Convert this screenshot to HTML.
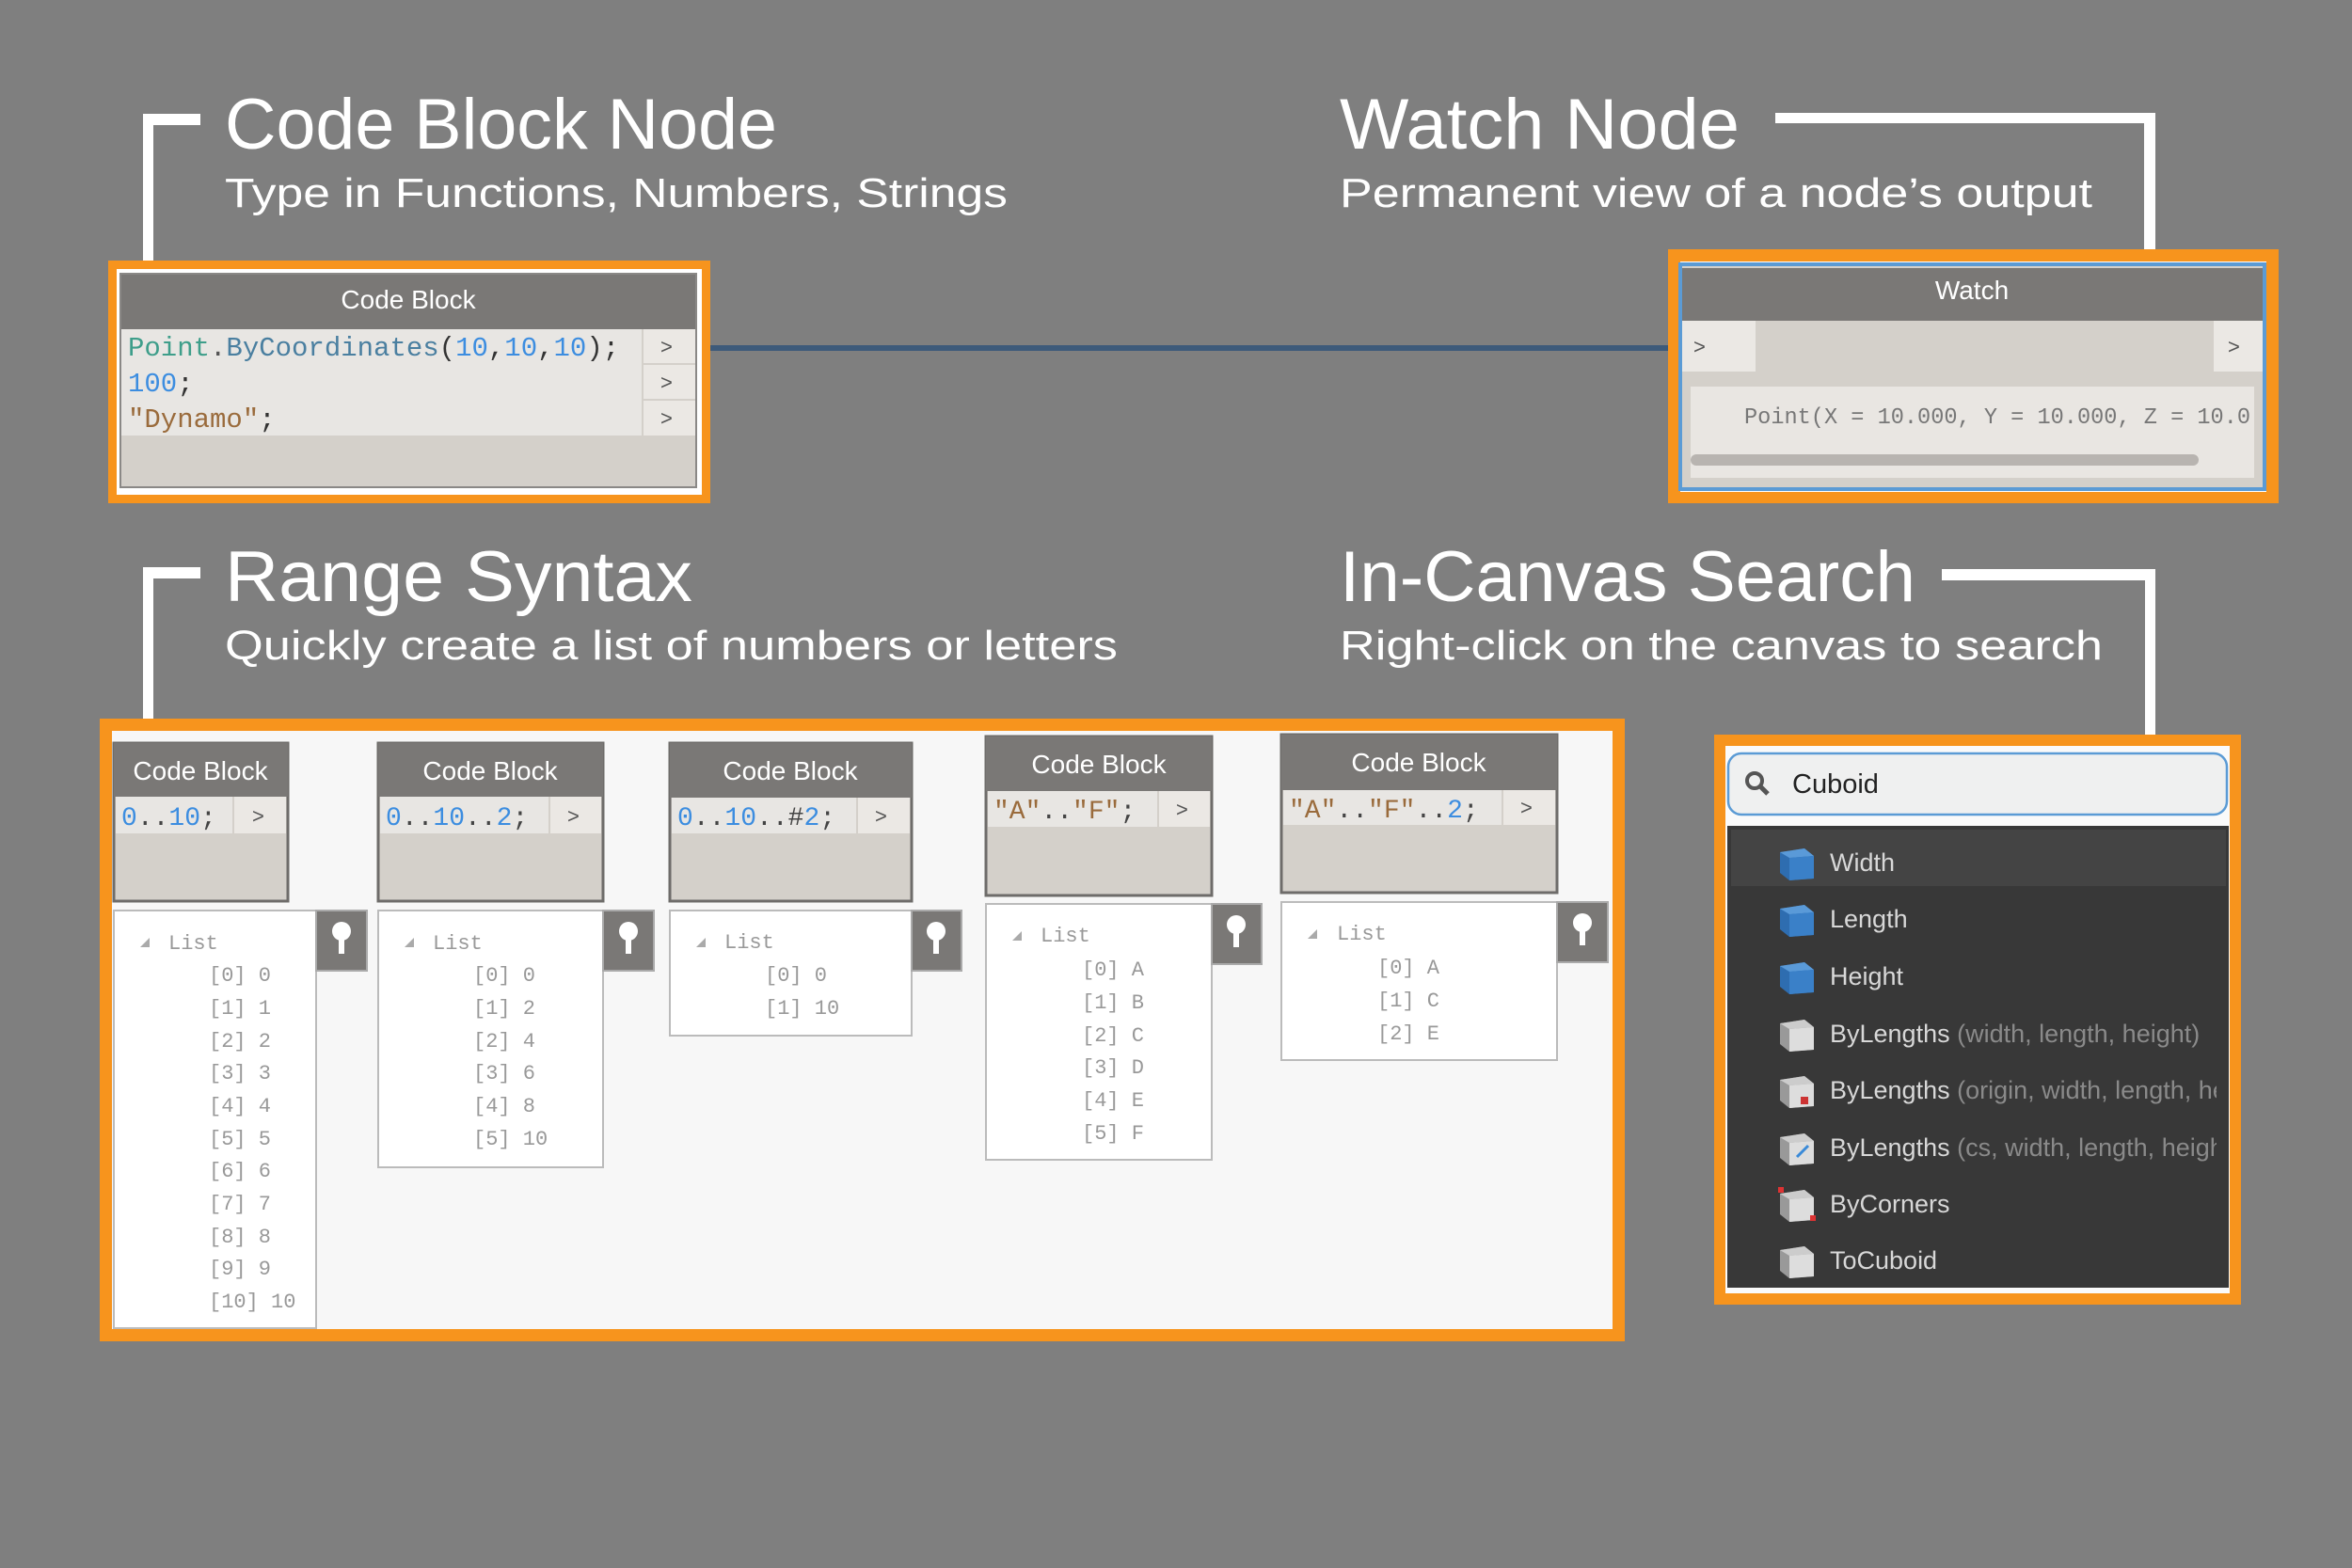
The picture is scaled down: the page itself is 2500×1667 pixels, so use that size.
<!DOCTYPE html>
<html><head><meta charset="utf-8"><style>
html,body{margin:0;padding:0;background:#7f7f7f;}
svg{display:block;}
.t{font-family:"Liberation Sans",sans-serif;fill:#fff;}
.m{font-family:"Liberation Mono",monospace;}
</style></head><body>
<svg width="2500" height="1667" viewBox="0 0 2500 1667" xmlns="http://www.w3.org/2000/svg">
<rect width="2500" height="1667" fill="#7f7f7f"/>

<g fill="#fff">
<rect x="152" y="121" width="61" height="12"/><rect x="152" y="121" width="11" height="158"/>
<rect x="1887" y="120" width="404" height="11"/><rect x="2279" y="120" width="12" height="147"/>
<rect x="152" y="603" width="61" height="12"/><rect x="152" y="603" width="11" height="164"/>
<rect x="2064" y="605" width="227" height="12"/><rect x="2280" y="605" width="11" height="178"/>
</g>

<text class="t" x="239" y="158" font-size="76" textLength="587" lengthAdjust="spacingAndGlyphs">Code Block Node</text>
<text class="t" x="239" y="220" font-size="44" fill="#f2f2f2" textLength="832" lengthAdjust="spacingAndGlyphs">Type in Functions, Numbers, Strings</text>
<text class="t" x="1424" y="158" font-size="76" textLength="425" lengthAdjust="spacingAndGlyphs">Watch Node</text>
<text class="t" x="1424" y="220" font-size="44" textLength="800" lengthAdjust="spacingAndGlyphs">Permanent view of a node’s output</text>
<text class="t" x="239" y="639" font-size="76" textLength="497" lengthAdjust="spacingAndGlyphs">Range Syntax</text>
<text class="t" x="239" y="701" font-size="44" textLength="949" lengthAdjust="spacingAndGlyphs">Quickly create a list of numbers or letters</text>
<text class="t" x="1424" y="639" font-size="76" textLength="612" lengthAdjust="spacingAndGlyphs">In-Canvas Search</text>
<text class="t" x="1424" y="701" font-size="44" textLength="811" lengthAdjust="spacingAndGlyphs">Right-click on the canvas to search</text>

<rect x="740" y="367" width="1050" height="6" fill="#3d5a7a"/>

<rect x="115" y="277" width="640" height="258" fill="#f7941d"/>
<rect x="124" y="286" width="622" height="240" fill="#fff"/>
<rect x="128" y="291" width="612" height="227" fill="#d4d0ca" stroke="#8a8886" stroke-width="2"/>
<rect x="129" y="292" width="610" height="58" fill="#7a7876"/>
<text class="t" x="434" y="328" font-size="28" text-anchor="middle">Code Block</text>
<rect x="129" y="350" width="553" height="113" fill="#e8e6e3"/>
<rect x="684" y="350" width="55" height="36" fill="#ebe8e4"/>
<rect x="684" y="388" width="55" height="36" fill="#ebe8e4"/>
<rect x="684" y="426" width="55" height="37" fill="#ebe8e4"/>
<g class="m" font-size="29">
<text x="136" y="378"><tspan fill="#3e9e8a">Point</tspan><tspan fill="#555">.</tspan><tspan fill="#4a7fa0">ByCoordinates</tspan><tspan fill="#333">(</tspan><tspan fill="#3c8de0">10</tspan><tspan fill="#333">,</tspan><tspan fill="#3c8de0">10</tspan><tspan fill="#333">,</tspan><tspan fill="#3c8de0">10</tspan><tspan fill="#333">);</tspan></text>
<text x="136" y="416"><tspan fill="#3c8de0">100</tspan><tspan fill="#333">;</tspan></text>
<text x="136" y="454"><tspan fill="#9a6b3c">"Dynamo"</tspan><tspan fill="#333">;</tspan></text>
</g>
<g class="t" font-size="22" style="fill:#555">
<text x="702" y="376">&gt;</text><text x="702" y="414">&gt;</text><text x="702" y="452">&gt;</text>
</g>

<rect x="1773" y="265" width="649" height="270" fill="#f7941d"/>
<rect x="1786" y="278" width="623" height="245" fill="#fff"/>
<rect x="1786" y="281" width="621" height="239" fill="#d4d0ca" stroke="#5b9bd5" stroke-width="4"/>
<rect x="1788" y="285" width="617" height="56" fill="#7a7876"/>
<text class="t" x="2096" y="318" font-size="28" text-anchor="middle">Watch</text>
<rect x="1788" y="341" width="78" height="54" fill="#ebe8e4"/>
<rect x="2353" y="341" width="52" height="54" fill="#ebe8e4"/>
<text class="t" x="1800" y="376" font-size="22" style="fill:#555">&gt;</text>
<text class="t" x="2368" y="376" font-size="22" style="fill:#555">&gt;</text>
<rect x="1797" y="411" width="599" height="97" fill="#e9e6e2"/>
<text class="m" x="1854" y="450" font-size="23.6" fill="#777">Point(X = 10.000, Y = 10.000, Z = 10.0</text>
<rect x="1797" y="483" width="540" height="12" rx="6" fill="#b8b4b0"/>

<rect x="106" y="764" width="1621" height="662" fill="#f7941d"/>
<rect x="119" y="777" width="1595" height="636" fill="#f7f7f7"/>

<g>
<rect x="121" y="790" width="185" height="168" fill="#d4d0ca" stroke="#6e6c6a" stroke-width="3"/>
<rect x="121" y="790" width="185" height="57" fill="#7a7876"/>
<text class="t" x="213" y="829" font-size="28" text-anchor="middle">Code Block</text>
<rect x="123" y="847" width="124" height="39" fill="#e8e6e3"/><rect x="249" y="847" width="55" height="39" fill="#ebe8e4"/>
<text class="m" x="129" y="877" font-size="28"><tspan fill="#3c8de0">0</tspan><tspan fill="#444">..</tspan><tspan fill="#3c8de0">10</tspan><tspan fill="#444">;</tspan></text>
<text class="t" x="268" y="875" font-size="22" style="fill:#555">&gt;</text>
<rect x="121" y="968" width="215" height="444" fill="#fff" stroke="#bbb" stroke-width="2"/>
<rect x="336" y="968" width="54" height="64" fill="#7a7876" stroke="#aaa" stroke-width="2"/>

<rect x="402" y="790" width="239" height="168" fill="#d4d0ca" stroke="#6e6c6a" stroke-width="3"/>
<rect x="402" y="790" width="239" height="57" fill="#7a7876"/>
<text class="t" x="521" y="829" font-size="28" text-anchor="middle">Code Block</text>
<rect x="404" y="847" width="179" height="39" fill="#e8e6e3"/><rect x="585" y="847" width="54" height="39" fill="#ebe8e4"/>
<text class="m" x="410" y="877" font-size="28"><tspan fill="#3c8de0">0</tspan><tspan fill="#444">..</tspan><tspan fill="#3c8de0">10</tspan><tspan fill="#444">..</tspan><tspan fill="#3c8de0">2</tspan><tspan fill="#444">;</tspan></text>
<text class="t" x="603" y="875" font-size="22" style="fill:#555">&gt;</text>
<rect x="402" y="968" width="239" height="273" fill="#fff" stroke="#bbb" stroke-width="2"/>
<rect x="641" y="968" width="54" height="64" fill="#7a7876" stroke="#aaa" stroke-width="2"/>

<rect x="712" y="790" width="257" height="168" fill="#d4d0ca" stroke="#6e6c6a" stroke-width="3"/>
<rect x="712" y="790" width="257" height="58" fill="#7a7876"/>
<text class="t" x="840" y="829" font-size="28" text-anchor="middle">Code Block</text>
<rect x="714" y="848" width="196" height="38" fill="#e8e6e3"/><rect x="912" y="848" width="55" height="38" fill="#ebe8e4"/>
<text class="m" x="720" y="877" font-size="28"><tspan fill="#3c8de0">0</tspan><tspan fill="#444">..</tspan><tspan fill="#3c8de0">10</tspan><tspan fill="#444">..#</tspan><tspan fill="#3c8de0">2</tspan><tspan fill="#444">;</tspan></text>
<text class="t" x="930" y="875" font-size="22" style="fill:#555">&gt;</text>
<rect x="712" y="968" width="257" height="133" fill="#fff" stroke="#bbb" stroke-width="2"/>
<rect x="969" y="968" width="53" height="64" fill="#7a7876" stroke="#aaa" stroke-width="2"/>

<rect x="1048" y="783" width="240" height="169" fill="#d4d0ca" stroke="#6e6c6a" stroke-width="3"/>
<rect x="1048" y="783" width="240" height="58" fill="#7a7876"/>
<text class="t" x="1168" y="822" font-size="28" text-anchor="middle">Code Block</text>
<rect x="1050" y="841" width="180" height="38" fill="#e8e6e3"/><rect x="1232" y="841" width="54" height="38" fill="#ebe8e4"/>
<text class="m" x="1056" y="870" font-size="28"><tspan fill="#9a6b3c">"A"</tspan><tspan fill="#444">..</tspan><tspan fill="#9a6b3c">"F"</tspan><tspan fill="#444">;</tspan></text>
<text class="t" x="1250" y="868" font-size="22" style="fill:#555">&gt;</text>
<rect x="1048" y="961" width="240" height="272" fill="#fff" stroke="#bbb" stroke-width="2"/>
<rect x="1288" y="961" width="53" height="64" fill="#7a7876" stroke="#aaa" stroke-width="2"/>

<rect x="1362" y="781" width="293" height="168" fill="#d4d0ca" stroke="#6e6c6a" stroke-width="3"/>
<rect x="1362" y="781" width="293" height="59" fill="#7a7876"/>
<text class="t" x="1508" y="820" font-size="28" text-anchor="middle">Code Block</text>
<rect x="1364" y="840" width="232" height="37" fill="#e8e6e3"/><rect x="1598" y="840" width="55" height="37" fill="#ebe8e4"/>
<text class="m" x="1370" y="869" font-size="28"><tspan fill="#9a6b3c">"A"</tspan><tspan fill="#444">..</tspan><tspan fill="#9a6b3c">"F"</tspan><tspan fill="#444">..</tspan><tspan fill="#3c8de0">2</tspan><tspan fill="#444">;</tspan></text>
<text class="t" x="1616" y="866" font-size="22" style="fill:#555">&gt;</text>
<rect x="1362" y="959" width="293" height="168" fill="#fff" stroke="#bbb" stroke-width="2"/>
<rect x="1655" y="959" width="54" height="64" fill="#7a7876" stroke="#aaa" stroke-width="2"/>
</g>

<g fill="#fff">
<circle cx="363" cy="990" r="10"/><rect x="360" y="996" width="6" height="18"/>
<circle cx="668" cy="990" r="10"/><rect x="665" y="996" width="6" height="18"/>
<circle cx="995" cy="990" r="10"/><rect x="992" y="996" width="6" height="18"/>
<circle cx="1314" cy="983" r="10"/><rect x="1311" y="989" width="6" height="18"/>
<circle cx="1682" cy="981" r="10"/><rect x="1679" y="987" width="6" height="18"/>
</g>

<g fill="#aaa">
<polygon points="149,1007 159,1007 159,997"/>
<polygon points="430,1007 440,1007 440,997"/>
<polygon points="740,1007 750,1007 750,997"/>
<polygon points="1076,1000 1086,1000 1086,990"/>
<polygon points="1390,998 1400,998 1400,988"/>
</g>
<g class="m" font-size="22" fill="#999">
<text x="179" y="1009">List</text>
<text x="222" y="1043">[0] 0</text><text x="222" y="1078">[1] 1</text><text x="222" y="1113">[2] 2</text><text x="222" y="1147">[3] 3</text><text x="222" y="1182">[4] 4</text><text x="222" y="1217">[5] 5</text><text x="222" y="1251">[6] 6</text><text x="222" y="1286">[7] 7</text><text x="222" y="1321">[8] 8</text><text x="222" y="1355">[9] 9</text><text x="222" y="1390">[10] 10</text>
<text x="460" y="1009">List</text>
<text x="503" y="1043">[0] 0</text><text x="503" y="1078">[1] 2</text><text x="503" y="1113">[2] 4</text><text x="503" y="1147">[3] 6</text><text x="503" y="1182">[4] 8</text><text x="503" y="1217">[5] 10</text>
<text x="770" y="1008">List</text>
<text x="813" y="1043">[0] 0</text><text x="813" y="1078">[1] 10</text>
<text x="1106" y="1001">List</text>
<text x="1150" y="1037">[0] A</text><text x="1150" y="1072">[1] B</text><text x="1150" y="1107">[2] C</text><text x="1150" y="1141">[3] D</text><text x="1150" y="1176">[4] E</text><text x="1150" y="1211">[5] F</text>
<text x="1421" y="999">List</text>
<text x="1464" y="1035">[0] A</text><text x="1464" y="1070">[1] C</text><text x="1464" y="1105">[2] E</text>
</g>

<rect x="1822" y="781" width="560" height="606" fill="#f7941d"/>
<rect x="1834" y="793" width="536" height="582" fill="#fafafa"/>
<rect x="1837" y="801" width="530" height="65" rx="14" fill="#eff0f0" stroke="#5b9bd5" stroke-width="2.5"/>
<circle cx="1865" cy="830" r="8" fill="none" stroke="#555" stroke-width="4"/>
<line x1="1871" y1="836" x2="1879" y2="844" stroke="#555" stroke-width="5"/>
<text class="t" x="1905" y="843" font-size="29" style="fill:#222">Cuboid</text>
<rect x="1836" y="878" width="533" height="491" fill="#383838"/>
<rect x="1840" y="882" width="526" height="60" fill="#444"/>
<defs>
<g id="cb"><polygon points="0,8 26,4 36,12 36,36 10,38 0,30" fill="#2e6db0"/><polygon points="0,8 26,4 36,12 10,14" fill="#5a9ad8"/><polygon points="10,14 36,12 36,36 10,38" fill="#3a80c8"/></g>
<g id="cg"><polygon points="0,8 26,4 36,12 36,36 10,38 0,30" fill="#999"/><polygon points="0,8 26,4 36,12 10,14" fill="#ccc"/><polygon points="10,14 36,12 36,36 10,38" fill="#ddd"/></g>
<clipPath id="sc"><rect x="1836" y="878" width="520" height="491"/></clipPath>
</defs>
<use href="#cb" x="1892" y="898"/>
<use href="#cb" x="1892" y="958"/>
<use href="#cb" x="1892" y="1019"/>
<use href="#cg" x="1892" y="1080"/>
<use href="#cg" x="1892" y="1140"/>
<use href="#cg" x="1892" y="1201"/>
<use href="#cg" x="1892" y="1261"/>
<use href="#cg" x="1892" y="1321"/>
<rect x="1914" y="1166" width="8" height="8" fill="#c33"/>
<line x1="1910" y1="1230" x2="1922" y2="1218" stroke="#3a8ad8" stroke-width="3"/>
<rect x="1890" y="1262" width="6" height="6" fill="#d33"/><rect x="1924" y="1292" width="6" height="6" fill="#d33"/>
<g class="t" font-size="27" style="fill:#d8d8d8" clip-path="url(#sc)">
<text x="1945" y="926">Width</text>
<text x="1945" y="986">Length</text>
<text x="1945" y="1047">Height</text>
<text x="1945" y="1108">ByLengths <tspan style="fill:#8a8a8a">(width, length, height)</tspan></text>
<text x="1945" y="1168">ByLengths <tspan style="fill:#8a8a8a">(origin, width, length, height)</tspan></text>
<text x="1945" y="1229">ByLengths <tspan style="fill:#8a8a8a">(cs, width, length, height)</tspan></text>
<text x="1945" y="1289">ByCorners</text>
<text x="1945" y="1349">ToCuboid</text>
</g>
</svg>
</body></html>
